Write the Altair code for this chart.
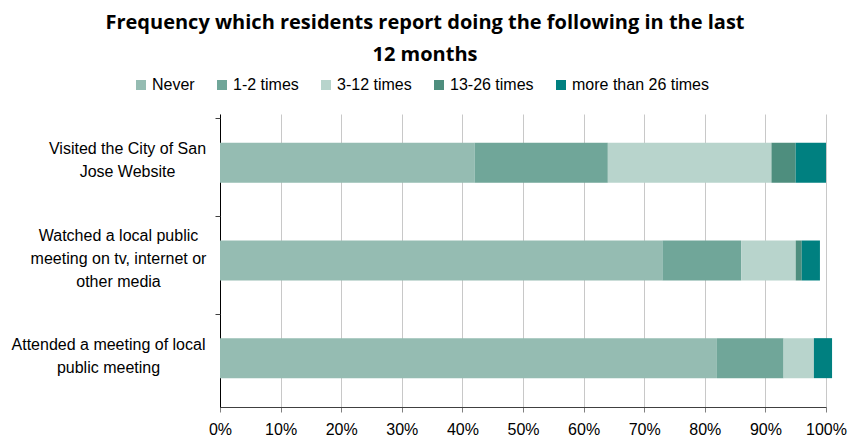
import altair as alt
import pandas as pd

categories = [
    "Visited the City of San|Jose Website",
    "Watched a local public|meeting on tv, internet or|other media",
    "Attended a meeting of local|public meeting",
]
responses = ["Never", "1-2 times", "3-12 times", "13-26 times", "more than 26 times"]
colors = ["#95BCB2", "#70A699", "#B8D4CC", "#4E8E7E", "#008080"]

never = [42, 73, 82]
times_1_2 = [22, 13, 11]
times_3_12 = [27, 9, 5]
times_13_26 = [4, 1, 0]
more_26 = [5, 3, 3]

series = [never, times_1_2, times_3_12, times_13_26, more_26]
rows = []
for ri, (resp, vals) in enumerate(zip(responses, series)):
    for ci, cat in enumerate(categories):
        rows.append({"category": cat, "response": resp, "order": ri, "value": vals[ci] / 100})
df = pd.DataFrame(rows)

FONT = "Liberation Sans"
FS = 16

pad_expr = (f"datum.value == '{categories[0]}' ? 93 : "
            f"datum.value == '{categories[1]}' ? 102 : 112")
off_expr = "-(length(split(datum.value, '|')) - 1) * 11.5 - 2"

bars = alt.Chart(df).mark_bar(size=40).encode(
    y=alt.Y("category:N", sort=categories, title=None,
            axis=alt.Axis(labelExpr="split(datum.label, '|')", labelAlign="center",
                          labelPadding={"expr": pad_expr},
                          labelOffset={"expr": off_expr},
                          labelFontSize=FS, labelLineHeight=23,
                          labelFont=FONT, labelColor="#000000", ticks=False,
                          domainColor="#000000", labelLimit=300, labelBaseline="middle")),
    x=alt.X("value:Q", stack="zero", title=None,
            scale=alt.Scale(domain=[0, 1], nice=False),
            axis=alt.Axis(format="%", values=[i / 10 for i in range(11)], grid=True,
                          gridColor="#C8C8C8", labelFontSize=FS, labelFont=FONT,
                          labelColor="#000000", tickColor="#808080", tickSize=5,
                          domainColor="#404040", labelPadding=9, labelFlush=False)),
    color=alt.Color("response:N", sort=responses,
                    scale=alt.Scale(domain=responses, range=colors),
                    legend=alt.Legend(title=None, orient="none", direction="horizontal",
                                      legendX=-87, legendY=-37, symbolType="square",
                                      symbolSize=100, symbolStrokeWidth=0,
                                      labelFontSize=FS, labelFont=FONT, labelColor="#000000",
                                      columnPadding=19, labelOffset=3)),
    order=alt.Order("order:Q"),
)

ticks = alt.Chart(df).mark_bar(opacity=0).encode(
    y=alt.Y("category:N", sort=categories, title=None,
            axis=alt.Axis(orient="left", bandPosition=0, labels=False, domain=False,
                          ticks=True, tickSize=5, tickColor="#404040", grid=False)),
)

chart = alt.layer(bars, ticks).resolve_axis(y="independent").properties(
    width=606, height=293,
    autosize=alt.AutoSizeParams(type="none"),
    padding={"left": 220, "top": 114, "right": 23, "bottom": 30},
    title=alt.TitleParams(
        ["Frequency which residents report doing the following in the last", "12 months"],
        anchor="middle", dx=-98, fontSize=20, font="Open Sans", fontWeight="bold",
        lineHeight=32, offset=12, color="#000000",
    ),
).configure_view(stroke=None)

chart.save("out.html", embed_options={"renderer": "svg", "actions": False})
